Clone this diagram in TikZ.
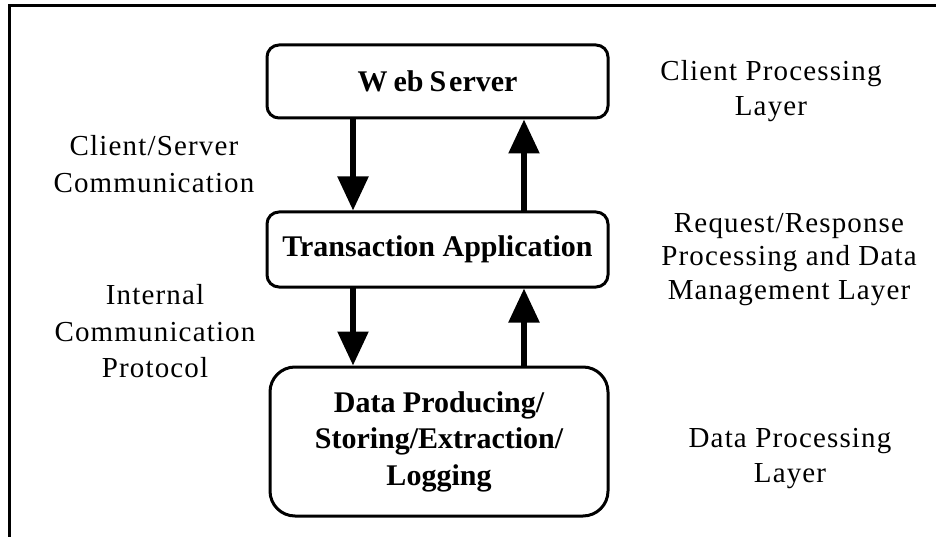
\documentclass[tikz,border=0pt]{standalone}
\usepackage{fontspec}
\setmainfont{Liberation Serif}
\newfontfamily\layerfont[LetterSpace=4]{Liberation Serif}
\usetikzlibrary{arrows.meta}

\tikzset{
  frameline/.style={line width=3pt},
  layerbox/.style={draw, line width=3pt, rounded corners=12pt, align=center,
    font=\bfseries\fontsize{30}{36.5}\selectfont, inner sep=0pt},
  flowarrow/.style={line width=5.5pt,
    -{Triangle[width=30pt,length=34pt]}, shorten <=-1pt},
  sidelabel/.style={align=center, inner sep=0pt}
}

\begin{document}
\begin{tikzpicture}[x=1pt,y=-1pt]
  \useasboundingbox (0,0) rectangle (936,537);

  % outer frame: top and left edges
  \coordinate (ftr) at (936,6);
  \coordinate (ftl) at (9.5,6);
  \coordinate (fbl) at (9.5,537);
  \draw[frameline] (ftr) -- (ftl) -- (fbl);

  % the three processing layers
  \node[layerbox, minimum width=341pt, minimum height=73pt]
    (web) at (437.5,81.5) {W\kern6pt eb\kern6pt S\kern3pt erver};
  \node[layerbox, minimum width=341pt, minimum height=75pt,
        text height=20pt, text depth=6pt]
    (trans) at (437.5,249.5) {Transaction Application};
  \node[layerbox, rounded corners=25pt, minimum width=338pt, minimum height=149pt]
    (data) at (439,441.5) {Data Producing/\\Storing/Extraction/\\Logging};

  % arrow columns
  \coordinate (colL) at (353,0);
  \coordinate (colR) at (524,0);

  \draw[flowarrow] (colL |- web.south) -- (colL |- trans.north);
  \draw[flowarrow] (colR |- trans.north) -- (colR |- web.south);
  \draw[flowarrow] (colL |- trans.south) -- (colL |- data.north);
  \draw[flowarrow] (colR |- data.north) -- (colR |- trans.south);

  % communication labels
  \node[sidelabel, font=\layerfont\fontsize{29}{37}\selectfont]
    (csc) at (154,164.5) {Client/Server\\Communication};
  \node[sidelabel, font=\layerfont\fontsize{29}{36.5}\selectfont]
    (icp) at (155,331.5) {Internal\\Communication\\Protocol};

  % layer labels
  \node[sidelabel, font=\layerfont\fontsize{29}{35}\selectfont]
    (cpl) at (771,91) {Client Processing\\Layer};
  \node[sidelabel, font=\layerfont\fontsize{29}{33.5}\selectfont]
    (rrp) at (789,259.5) {Request/Response\\Processing and Data\\Management Layer};
  \node[sidelabel, font=\layerfont\fontsize{29}{35}\selectfont]
    (dpl) at (790,458.5) {Data Processing\\Layer};
\end{tikzpicture}
\end{document}
